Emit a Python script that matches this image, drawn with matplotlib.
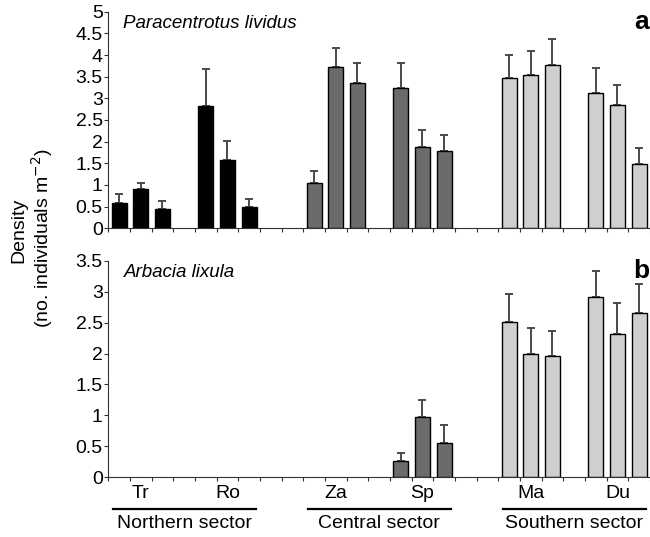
import matplotlib

matplotlib.use("Agg")

import matplotlib.pyplot as plt
import numpy as np

plt.rcParams["font.family"] = ["Liberation Sans", "DejaVu Sans"]

# bar slots: three replicates per site, gaps between sites
sites = ["Tr", "Ro", "Za", "Sp", "Ma", "Du"]
site_slots = [0, 4, 9, 13, 18, 22]
site_colors = ["#000000", "#000000", "#6b6b6b", "#6b6b6b", "#cfcfcf", "#cfcfcf"]
sectors = ["Northern sector", "Central sector", "Southern sector"]

# Paracentrotus lividus (mean, +error), three replicates per site
lividus_mean = [
    [0.58, 0.90, 0.45],
    [2.83, 1.58, 0.49],
    [1.05, 3.73, 3.35],
    [3.25, 1.88, 1.78],
    [3.48, 3.54, 3.78],
    [3.13, 2.84, 1.49],
]
lividus_err = [
    [0.22, 0.14, 0.18],
    [0.85, 0.44, 0.19],
    [0.28, 0.44, 0.47],
    [0.57, 0.38, 0.38],
    [0.52, 0.55, 0.58],
    [0.57, 0.47, 0.36],
]

# Arbacia lixula
lixula_mean = [
    [0, 0, 0],
    [0, 0, 0],
    [0, 0, 0],
    [0.27, 0.97, 0.56],
    [2.51, 2.00, 1.96],
    [2.91, 2.32, 2.66],
]
lixula_err = [
    [0, 0, 0],
    [0, 0, 0],
    [0, 0, 0],
    [0.13, 0.28, 0.29],
    [0.45, 0.42, 0.41],
    [0.43, 0.50, 0.47],
]

W, H = 650, 537
fig = plt.figure(figsize=(W / 100, H / 100), dpi=100)

left = 108.3 / W
ax_a = fig.add_axes([left, 1 - 228.3 / H, 1 - left, 216.6 / H])
ax_b = fig.add_axes([left, 1 - 477.3 / H, 1 - left, 216.6 / H])


def draw_panel(ax, means, errs, ymax, yticks, title, letter):
    for slot, color, m, e in zip(site_slots, site_colors, means, errs):
        x = slot + np.arange(3)
        show = [v > 0 for v in m]
        xs = x[show]
        ms = np.array(m)[show]
        es = np.array(e)[show]
        if len(xs) == 0:
            continue
        ax.bar(xs, ms, width=0.68, color=color, edgecolor="black", linewidth=1.0, zorder=2)
        ax.errorbar(xs, ms, yerr=[np.zeros_like(es), es], fmt="none",
                    ecolor="#4a4a4a", elinewidth=1.4, capsize=3, capthick=1.4, zorder=1)
    ax.set_xlim(-0.5, 24.5)
    ax.set_ylim(0, ymax)
    ax.set_yticks(yticks)
    ax.set_yticklabels([f"{t:g}" for t in yticks])
    ax.set_xticks(np.arange(-0.5, 25, 1))
    ax.set_xticklabels([])
    ax.spines["top"].set_visible(False)
    ax.spines["right"].set_visible(False)
    ax.spines["left"].set_color("#333333")
    ax.spines["bottom"].set_color("#333333")
    ax.tick_params(axis="y", labelsize=14, length=3, pad=1, color="#333333")
    ax.tick_params(axis="x", length=3, color="#333333")
    ax.text(0.2, ymax * 0.985, title, style="italic", fontsize=13.5, va="top", ha="left")
    ax.text(24.45, ymax * 1.01, letter, fontweight="bold", fontsize=19, va="top", ha="right")


draw_panel(ax_a, lividus_mean, lividus_err, 5, np.arange(0, 5.01, 0.5),
           "Paracentrotus lividus", "a")
draw_panel(ax_b, lixula_mean, lixula_err, 3.5, np.arange(0, 3.51, 0.5),
           "Arbacia lixula", "b")

fig.text(19 / W, 1 - 230 / H, "Density", rotation=90, fontsize=14, ha="center", va="center")
fig.text(42 / W, 1 - 238 / H, "(no. individuals m$^{-2}$)", rotation=90, fontsize=14,
         ha="center", va="center")

# site labels and sector brackets under panel b
trans = ax_b.get_xaxis_transform()
for name, slot in zip(sites, site_slots):
    ax_b.text(slot + 1, -0.035, name, transform=trans, ha="center", va="top",
              fontsize=14, clip_on=False)
for i, name in enumerate(sectors):
    x0 = site_slots[2 * i] - 0.3
    x1 = site_slots[2 * i + 1] + 2.3
    ax_b.plot([x0, x1], [-0.147, -0.147], color="black", linewidth=1.6,
              transform=trans, clip_on=False)
    ax_b.text((x0 + x1) / 2, -0.172, name, transform=trans, ha="center", va="top",
              fontsize=14, clip_on=False)

fig.savefig("out.png", dpi=100)
